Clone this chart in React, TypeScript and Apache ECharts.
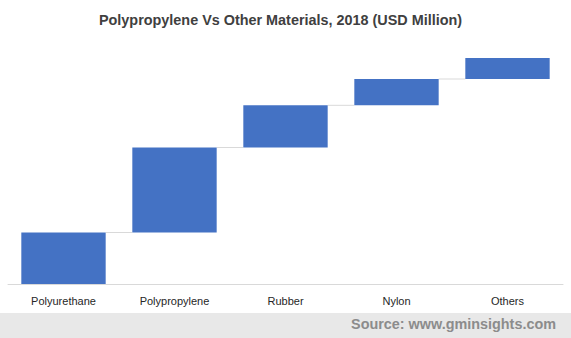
import React, { useEffect, useRef } from "react";
import * as echarts from "echarts";

const categories = ["Polyurethane", "Polypropylene", "Rubber", "Nylon", "Others"];
const increments = [51.5, 85, 42.2, 26.3, 21];
const titleText = "Polypropylene Vs Other Materials, 2018 (USD Million)";
const sourceText = "Source: www.gminsights.com";

export default function App() {
  const ref = useRef<HTMLDivElement>(null);
  useEffect(() => {
    document.body.style.margin = "0";
    const chart = echarts.init(ref.current!, null, { renderer: "svg" });
    const bases: number[] = [];
    const tops: number[] = [];
    let acc = 0;
    increments.forEach((v) => {
      bases.push(acc);
      acc += v;
      tops.push(acc);
    });
    const connectorData = tops.slice(0, -1).map((t, i) => [i, t]);
    chart.setOption({
      animation: false,
      title: {
        text: titleText,
        left: 275.5,
        top: 8,
        textAlign: "center",
        textStyle: { fontFamily: "Liberation Sans, Arial", fontSize: 14.4, fontWeight: "bold", color: "#404040" },
      },
      graphic: [
        { type: "rect", left: 0, top: 313, shape: { width: 571, height: 25 }, style: { fill: "#e8e8e8" }, silent: true },
        {
          type: "text",
          right: 15,
          top: 317,
          style: { text: sourceText, font: "bold 14.4px 'Liberation Sans', Arial", fill: "#8c8c8c" },
        },
      ],
      grid: { left: 8, right: 8, top: 40, bottom: 54, containLabel: false },
      xAxis: {
        type: "category",
        data: categories,
        axisLine: { lineStyle: { color: "#d9d9d9" } },
        axisTick: { show: false },
        axisLabel: { color: "#262626", fontSize: 11, fontFamily: "Liberation Sans, Arial", margin: 11 },
      },
      yAxis: { type: "value", min: 0, max: 244, show: false, splitLine: { show: false } },
      series: [
        {
          type: "bar",
          stack: "w",
          data: bases,
          itemStyle: { color: "transparent" },
          barWidth: "76%",
          silent: true,
        },
        {
          type: "bar",
          stack: "w",
          data: increments,
          itemStyle: { color: "#4472C4" },
          barWidth: "76%",
        },
        {
          type: "custom",
          data: connectorData,
          renderItem: (params: any, api: any) => {
            const i = api.value(0);
            const y = api.value(1);
            const p1 = api.coord([i, y]);
            const p2 = api.coord([i + 1, y]);
            const band = api.size([1, 0])[0];
            const half = band * 0.38;
            return {
              type: "line",
              shape: { x1: p1[0] + half, y1: p1[1], x2: p2[0] - half, y2: p2[1] },
              style: { stroke: "#d9d9d9", lineWidth: 1 },
            };
          },
          z: 1,
        },
      ],
    });
    return () => chart.dispose();
  }, []);
  return <div ref={ref} style={{ width: 571, height: 338 }} />;
}
